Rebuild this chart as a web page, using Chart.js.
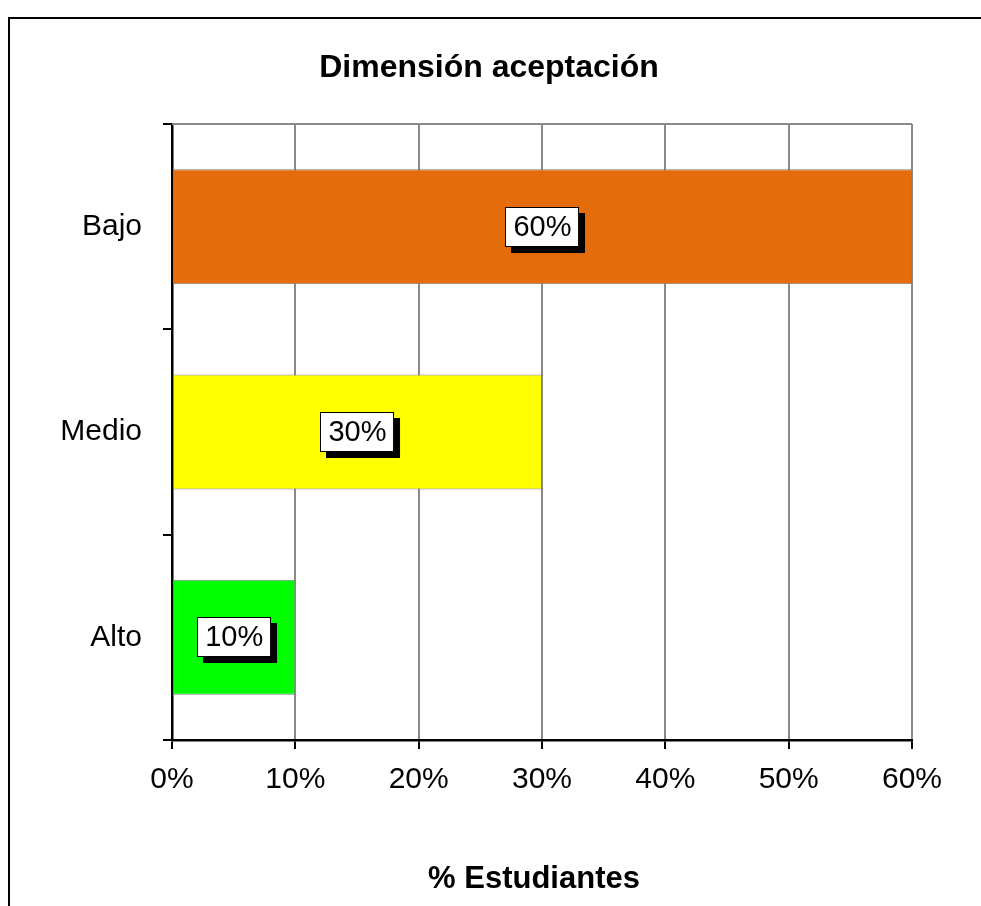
<!DOCTYPE html>
<html>
<head>
<meta charset="utf-8">
<script src="https://cdn.jsdelivr.net/npm/chart.js@4.4.1/dist/chart.umd.min.js"></script>
<style>
  html, body { margin: 0; padding: 0; background: #ffffff; }
  #wrap { width: 981px; height: 906px; position: relative; }
</style>
</head>
<body>
<div id="wrap"><canvas id="c" width="981" height="906"></canvas></div>
<script>
// Survey results: share of students per level of the "aceptación" dimension
const categories = ['Bajo', 'Medio', 'Alto'];
const percentages = [60, 30, 10];
const barColors = ['#E46C0A', '#FFFF00', '#00FF00'];
const tickValues = [0, 10, 20, 30, 40, 50, 60];

const chartTitle = 'Dimensión aceptación';
const axisTitle = '% Estudiantes';
const FONT = '"Liberation Sans", Arial, Helvetica, sans-serif';

// Outer frame, top plot line and headings
const framePlugin = {
  id: 'frame',
  beforeDraw(chart) {
    const ctx = chart.ctx;
    ctx.save();
    ctx.fillStyle = '#ffffff';
    ctx.fillRect(0, 0, chart.width, chart.height);
    ctx.strokeStyle = '#000000';
    ctx.lineWidth = 2;
    ctx.strokeRect(9, 18, chart.width + 50, chart.height + 50);
    ctx.restore();
  },
  beforeDatasetsDraw(chart) {
    const { ctx, chartArea } = chart;
    ctx.save();
    ctx.strokeStyle = '#8a8a8a';
    ctx.lineWidth = 2;
    ctx.beginPath();
    ctx.moveTo(chartArea.left, chartArea.top);
    ctx.lineTo(chartArea.right, chartArea.top);
    ctx.stroke();
    ctx.restore();
  },
  afterDraw(chart) {
    const { ctx, chartArea } = chart;
    ctx.save();
    ctx.fillStyle = '#000000';
    ctx.textAlign = 'center';
    ctx.textBaseline = 'alphabetic';
    ctx.font = 'bold 32px ' + FONT;
    ctx.fillText(chartTitle, 489, 77);
    ctx.font = 'bold 31px ' + FONT;
    ctx.fillText(axisTitle, (chartArea.left + chartArea.right) / 2 - 8, 888);
    ctx.restore();
  }
};

// Boxed value labels with a drop shadow, centred on each bar
const valueLabelPlugin = {
  id: 'valueLabels',
  afterDatasetsDraw(chart) {
    const ctx = chart.ctx;
    const meta = chart.getDatasetMeta(0);
    const data = chart.data.datasets[0].data;
    ctx.save();
    ctx.font = '29px ' + FONT;
    ctx.textAlign = 'center';
    ctx.textBaseline = 'middle';
    meta.data.forEach((bar, i) => {
      const text = data[i] + '%';
      const cx = (bar.x + bar.base) / 2;
      const cy = bar.y;
      const w = ctx.measureText(text).width + 16;
      const h = 40;
      const x0 = Math.round(cx - w / 2);
      const y0 = Math.round(cy - h / 2);
      ctx.fillStyle = '#000000';
      ctx.fillRect(x0 + 6, y0 + 6, w, h);
      ctx.fillStyle = '#ffffff';
      ctx.fillRect(x0, y0, w, h);
      ctx.strokeStyle = '#000000';
      ctx.lineWidth = 1;
      ctx.strokeRect(x0 + 0.5, y0 + 0.5, w - 1, h - 1);
      ctx.fillStyle = '#000000';
      ctx.fillText(text, cx, cy + 1);
    });
    ctx.restore();
  }
};

new Chart(document.getElementById('c'), {
  type: 'bar',
  data: {
    labels: categories,
    datasets: [{
      data: percentages,
      backgroundColor: barColors,
      borderColor: '#808080',
      borderWidth: 1,
      borderSkipped: false,
      barPercentage: 0.56,
      categoryPercentage: 1.0
    }]
  },
  options: {
    indexAxis: 'y',
    responsive: false,
    animation: false,
    events: [],
    layout: { padding: { top: 124, right: 69, left: 0, bottom: 0 } },
    plugins: {
      legend: { display: false },
      tooltip: { enabled: false },
      title: { display: false }
    },
    scales: {
      x: {
        min: 0,
        max: 60,
        afterBuildTicks(scale) {
          scale.ticks = tickValues.map(v => ({ value: v }));
        },
        afterFit(scale) { scale.height = 166; },
        ticks: {
          callback: v => v + '%',
          color: '#000000',
          font: { family: FONT, size: 30 },
          padding: 13,
          maxRotation: 0
        },
        grid: {
          color: '#8a8a8a',
          lineWidth: 2,
          tickColor: '#000000',
          tickLength: 9,
          drawOnChartArea: true
        },
        border: { display: true, color: '#000000', width: 2.5 }
      },
      y: {
        afterFit(scale) { scale.width = 172; },
        ticks: {
          color: '#000000',
          font: { family: FONT, size: 30 },
          padding: 21
        },
        grid: {
          offset: true,
          drawOnChartArea: false,
          color: '#000000',
          tickColor: '#000000',
          tickLength: 9,
          lineWidth: 2
        },
        border: { display: true, color: '#000000', width: 2.5 }
      }
    }
  },
  plugins: [framePlugin, valueLabelPlugin]
});
</script>
</body>
</html>
